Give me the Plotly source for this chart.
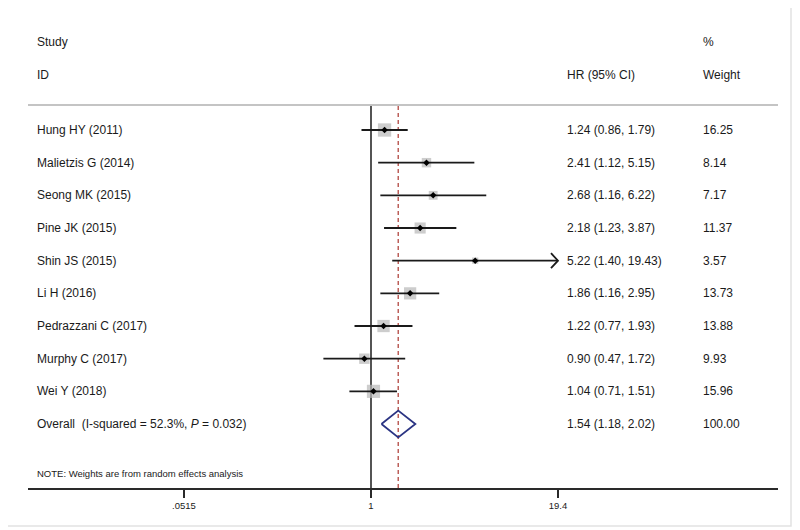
import plotly.graph_objects as go
import math

# ---------------- data ----------------
studies = ["Hung HY (2011)", "Malietzis G (2014)", "Seong MK (2015)", "Pine JK (2015)",
           "Shin JS (2015)", "Li H (2016)", "Pedrazzani C (2017)", "Murphy C (2017)",
           "Wei Y (2018)"]
hr = [1.24, 2.41, 2.68, 2.18, 5.22, 1.86, 1.22, 0.90, 1.04]
ci_low = [0.86, 1.12, 1.16, 1.23, 1.40, 1.16, 0.77, 0.47, 0.71]
ci_high = [1.79, 5.15, 6.22, 3.87, 19.43, 2.95, 1.93, 1.72, 1.51]
weights = [16.25, 8.14, 7.17, 11.37, 3.57, 13.73, 13.88, 9.93, 15.96]

overall_label = "Overall&nbsp;&nbsp;(I-squared = 52.3%, <i>P</i> = 0.032)"
overall_hr = 1.54
overall_low = 1.18
overall_high = 2.02
overall_weight = 100.00

tick_vals = [0.0515, 1, 19.4]
tick_text = [".0515", "1", "19.4"]
axis_max = 19.4
note = "NOTE: Weights are from random effects analysis"

# ---------------- layout constants (page pixels; page body has 8px margin) ----------------
OFF = 8
W, H = 792, 522
PL, PR, PT, PB = 28, 778, 105, 488          # plot area in page pixels
ML, MR, MT, MB = PL - OFF, W - (PR - OFF), PT - OFF, H - (PB - OFF)
px_per_log10 = 145.2
x0_px = 371
xr = [(PL - x0_px) / px_per_log10, (PR - x0_px) / px_per_log10]
row_h = 32.67
first_row_px = 130
yr = [-(PB - first_row_px) / row_h, (first_row_px - PT) / row_h]

FONT = "Liberation Sans, Arial, sans-serif"
TXT = "#1a1a1a"

n = len(studies)
rows = [-i for i in range(n)]
overall_row = -n

fig = go.Figure()

# null line and overall dashed line
fig.add_trace(go.Scatter(x=[1, 1], y=yr, mode="lines",
                         line=dict(color="#2a2a2a", width=1.6), hoverinfo="skip"))
fig.add_trace(go.Scatter(x=[overall_hr, overall_hr], y=yr, mode="lines",
                         line=dict(color="#b8544f", width=1.4, dash="4px,3px"), hoverinfo="skip"))

# weight squares
fig.add_trace(go.Scatter(x=hr, y=rows, mode="markers",
                         marker=dict(symbol="square", color="#b8b8b8",
                                     size=[3.3 * math.sqrt(w) for w in weights],
                                     line=dict(width=0)),
                         hoverinfo="skip"))

# CI lines
for r, lo, hi in zip(rows, ci_low, ci_high):
    hi_c = min(hi, axis_max)
    fig.add_trace(go.Scatter(x=[lo, hi_c], y=[r, r], mode="lines",
                             line=dict(color="#1a1a1a", width=1.8), hoverinfo="skip"))
    if hi > axis_max:
        back = 10 ** (math.log10(axis_max) - 7 / px_per_log10)
        fig.add_trace(go.Scatter(x=[back, axis_max, back], y=[r + 0.23, r, r - 0.23],
                                 mode="lines", line=dict(color="#1a1a1a", width=1.8),
                                 hoverinfo="skip"))

# point estimates
fig.add_trace(go.Scatter(x=hr, y=rows, mode="markers",
                         marker=dict(symbol="diamond", color="black", size=5),
                         hoverinfo="skip"))

# overall diamond
dh = 0.41
fig.add_trace(go.Scatter(x=[overall_low, overall_hr, overall_high, overall_hr, overall_low],
                         y=[overall_row, overall_row + dh, overall_row, overall_row - dh, overall_row],
                         mode="lines", line=dict(color="#2b3483", width=1.8), hoverinfo="skip"))

# text annotations (paper coordinates)
pw = PR - PL
ph = PB - PT

def px_x(px):
    return (px - PL) / pw

def px_y(py):
    return (PB - py) / ph

def row_py(r):
    return first_row_px - r * row_h

xs_study = px_x(35)
xs_hr = px_x(565)
xs_w = px_x(701)

ann = []
def add_text(x, py, text, size=12):
    ann.append(dict(x=x, y=px_y(py), xref="paper", yref="paper", text=text, showarrow=False,
                    xanchor="left", yanchor="middle", font=dict(family=FONT, size=size, color=TXT)))

add_text(xs_study, 42, "Study")
add_text(xs_study, 75, "ID")
add_text(xs_w, 42, "%")
add_text(xs_w, 75, "Weight")
add_text(xs_hr, 75, "HR (95% CI)")

for r, s, h, lo, hi, w in zip(rows, studies, hr, ci_low, ci_high, weights):
    add_text(xs_study, row_py(r), s)
    add_text(xs_hr, row_py(r), f"{h:.2f} ({lo:.2f}, {hi:.2f})")
    add_text(xs_w, row_py(r), f"{w:.2f}")

add_text(xs_study, row_py(overall_row), overall_label)
add_text(xs_hr, row_py(overall_row), f"{overall_hr:.2f} ({overall_low:.2f}, {overall_high:.2f})")
add_text(xs_w, row_py(overall_row), f"{overall_weight:.2f}")
add_text(xs_study, 473, note, size=9.5)

shapes = [
    # header rule
    dict(type="line", xref="paper", yref="paper", x0=0, x1=1, y0=1, y1=1,
         line=dict(color="#c4c4c4", width=2)),
    # outer border
    dict(type="rect", xref="paper", yref="paper",
         x0=px_x(3), x1=px_x(791), y0=px_y(526), y1=px_y(3),
         line=dict(color="#e2e2e2", width=1.5)),
]

fig.update_layout(
    width=W, height=H,
    margin=dict(l=ML, r=MR, t=MT, b=MB),
    paper_bgcolor="white", plot_bgcolor="white",
    showlegend=False,
    annotations=ann, shapes=shapes,
    xaxis=dict(type="log", range=xr, tickvals=tick_vals, ticktext=tick_text,
               showgrid=False, zeroline=False, showline=True, linecolor="#2a2a2a", linewidth=2,
               ticks="outside", ticklen=8, tickwidth=1.5, tickcolor="#2a2a2a",
               tickfont=dict(family=FONT, size=9.5, color=TXT), fixedrange=True),
    yaxis=dict(range=yr, visible=False, showgrid=False, zeroline=False, fixedrange=True),
)

fig.write_html("out.html")
